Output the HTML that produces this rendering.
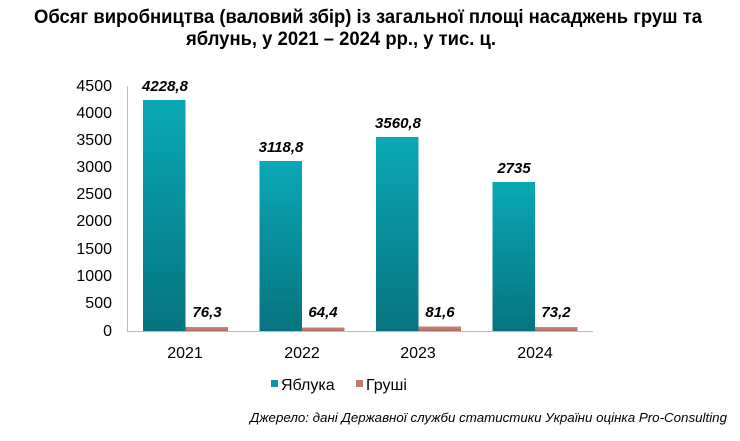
<!DOCTYPE html>
<html><head><meta charset="utf-8"><style>
body{margin:0;background:#fff;width:740px;height:436px;overflow:hidden;font-family:"Liberation Sans",Arial,sans-serif;}
</style></head><body>
<svg width="740" height="436" xmlns="http://www.w3.org/2000/svg" font-family="Liberation Sans, Arial, sans-serif">
<defs>
<linearGradient id="ga" x1="0" y1="0" x2="0" y2="1"><stop offset="0" stop-color="#0aa8b6"/><stop offset="1" stop-color="#067480"/></linearGradient>
<linearGradient id="gp" x1="0" y1="0" x2="0" y2="1"><stop offset="0" stop-color="#c98880"/><stop offset="1" stop-color="#b06a60"/></linearGradient>
</defs>
<text x="34" y="23" font-size="19" font-weight="bold" fill="#000" textLength="668" lengthAdjust="spacingAndGlyphs">Обсяг виробництва (валовий збір) із загальної площі насаджень груш та</text>
<text x="186" y="45" font-size="19" font-weight="bold" fill="#000" textLength="310" lengthAdjust="spacingAndGlyphs">яблунь, у 2021 – 2024 рр., у тис. ц.</text>
<g font-size="16" fill="#000" text-anchor="end">
<text x="112" y="91">4500</text><text x="112" y="118">4000</text><text x="112" y="145">3500</text>
<text x="112" y="172">3000</text><text x="112" y="199">2500</text><text x="112" y="226">2000</text>
<text x="112" y="254">1500</text><text x="112" y="281">1000</text><text x="112" y="308">500</text>
<text x="112" y="336">0</text>
</g>
<line x1="127.5" y1="86" x2="127.5" y2="331" stroke="#bbb"/>
<line x1="127" y1="331.5" x2="593" y2="331.5" stroke="#bbb"/>
<g>
<rect x="143" y="100" width="42.5" height="231" fill="url(#ga)"/>
<rect x="185.5" y="327" width="42.5" height="4" fill="url(#gp)"/>
<rect x="259.5" y="161" width="42.5" height="170" fill="url(#ga)"/>
<rect x="302" y="327.5" width="42.5" height="3.5" fill="url(#gp)"/>
<rect x="376" y="137" width="42.5" height="194" fill="url(#ga)"/>
<rect x="418.5" y="326.5" width="42.5" height="4.5" fill="url(#gp)"/>
<rect x="492.5" y="182" width="42.5" height="149" fill="url(#ga)"/>
<rect x="535" y="327" width="42.5" height="4" fill="url(#gp)"/>
</g>
<g font-size="15" font-weight="bold" font-style="italic" text-anchor="middle" fill="#000">
<text x="165" y="91">4228,8</text><text x="207" y="317">76,3</text>
<text x="281" y="152">3118,8</text><text x="323" y="317">64,4</text>
<text x="398" y="128">3560,8</text><text x="440" y="317">81,6</text>
<text x="514" y="173">2735</text><text x="556" y="317">73,2</text>
</g>
<g font-size="16" text-anchor="middle" fill="#000">
<text x="185" y="358">2021</text><text x="302" y="358">2022</text>
<text x="418" y="358">2023</text><text x="535" y="358">2024</text>
</g>
<rect x="271" y="380" width="7" height="7" fill="#0a96a3"/>
<text x="281" y="390" font-size="16" fill="#000">Яблука</text>
<rect x="356" y="380" width="7" height="7" fill="#c07a70"/>
<text x="366" y="390" font-size="16" fill="#000">Груші</text>
<text x="250" y="422" font-size="12.5" font-style="italic" fill="#000" textLength="477" lengthAdjust="spacingAndGlyphs">Джерело: дані Державної служби статистики України оцінка Pro-Consulting</text>
</svg>
</body></html>
